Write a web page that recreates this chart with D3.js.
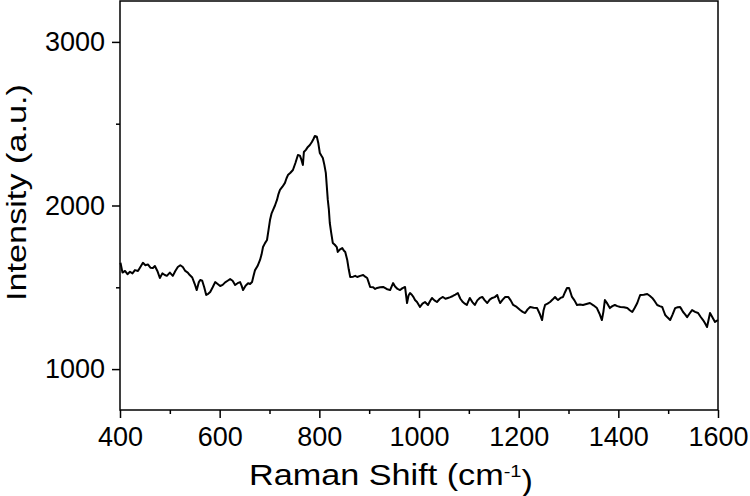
<!DOCTYPE html>
<html>
<head>
<meta charset="utf-8">
<script src="https://cdn.jsdelivr.net/npm/d3@7"></script>
<style>
  body { margin: 0; background: #fff; }
  text { font-family: "Liberation Sans", Arial, sans-serif; fill: #000; }
</style>
</head>
<body>
<svg></svg>
<script>
// raman spectrum, values
var shift = [401,405,410,415,420,425,430,436,440,446,451,456,461,466,470,475,480,485,490,494,500,506,511,516,521,526,531,536,540,545,550,554,558,561,565,569,573,577,581,586,591,596,601,606,611,616,621,626,631,636,641,644,647,652,657,661,665,668,671,676,681,684,687,691,695,698,701,704,707,711,715,718,721,726,731,734,737,742,747,752,757,761,764,767,769,773,777,781,785,788,791,795,798,801,804,807,810,813,817,819,821,824,827,831,835,837,841,846,849,852,856,859,862,868,872,876,882,888,892,896,899,902,908,912,916,922,928,935,942,948,952,957,962,967,972,976,979,982,986,989,992,996,1002,1007,1012,1018,1022,1026,1031,1036,1042,1048,1053,1058,1063,1068,1073,1078,1083,1088,1092,1096,1102,1107,1112,1117,1122,1127,1132,1137,1142,1147,1152,1157,1160,1163,1168,1173,1179,1184,1189,1196,1203,1208,1213,1218,1223,1230,1237,1242,1247,1250,1253,1258,1263,1268,1273,1276,1279,1284,1289,1293,1297,1301,1304,1307,1312,1317,1323,1329,1336,1343,1350,1357,1362,1367,1370,1373,1378,1383,1388,1393,1398,1404,1411,1418,1423,1428,1433,1438,1441,1444,1451,1458,1463,1468,1473,1478,1483,1488,1491,1494,1499,1504,1509,1514,1519,1524,1527,1530,1534,1538,1543,1548,1554,1560,1565,1570,1574,1578,1581,1584,1589,1594,1597,1600];
var intensity = [1650,1590,1600,1580,1595,1585,1605,1600,1620,1650,1635,1640,1620,1618,1630,1600,1557,1585,1575,1570,1590,1570,1600,1624,1635,1624,1600,1590,1575,1560,1520,1483,1530,1545,1540,1500,1453,1460,1471,1500,1532,1520,1508,1515,1530,1540,1550,1540,1514,1525,1532,1510,1483,1510,1525,1520,1532,1570,1605,1630,1667,1700,1746,1770,1789,1850,1911,1950,1972,2000,2034,2070,2095,2115,2138,2165,2186,2200,2217,2260,2309,2305,2280,2248,2327,2340,2358,2370,2388,2405,2425,2420,2380,2321,2305,2290,2250,2199,2034,1980,1893,1830,1771,1760,1746,1716,1730,1740,1725,1716,1667,1610,1563,1565,1570,1563,1570,1575,1565,1557,1530,1502,1500,1490,1496,1500,1502,1490,1483,1526,1505,1490,1483,1495,1502,1404,1450,1465,1453,1440,1422,1410,1380,1400,1410,1392,1415,1435,1420,1410,1430,1441,1430,1435,1440,1447,1455,1465,1430,1410,1400,1392,1435,1410,1392,1420,1435,1441,1420,1404,1425,1435,1440,1453,1425,1404,1425,1441,1441,1420,1392,1380,1361,1350,1343,1365,1380,1375,1373,1340,1300,1360,1392,1400,1410,1425,1441,1430,1422,1435,1441,1470,1496,1496,1470,1441,1420,1392,1395,1392,1398,1404,1390,1373,1340,1300,1350,1422,1400,1373,1385,1392,1385,1380,1378,1373,1360,1349,1375,1404,1430,1453,1455,1459,1448,1435,1415,1392,1385,1380,1355,1331,1315,1300,1335,1373,1378,1380,1365,1349,1335,1318,1340,1361,1350,1343,1320,1300,1280,1257,1300,1343,1315,1288,1295,1300];

var xTicks = [400, 600, 800, 1000, 1200, 1400, 1600];
var xMinor = [500, 700, 900, 1100, 1300, 1500];
var yTicks = [1000, 2000, 3000];
var yMinor = [1500, 2500];

var width = 750;
var height = 496;
var margin = {top: 1, right: 32, bottom: 86, left: 120};

var svg = d3.select('svg')
    .attr('width', width)
    .attr('height', height);

var xScale = d3.scaleLinear()
                .domain([400, 1600])
                .range([margin.left, width - margin.right]);

var yScale = d3.scaleLinear()
                .domain([750, 3250])
                .range([height - margin.bottom, margin.top]);

var xAxis = d3.axisBottom(xScale)
              .tickValues(xTicks)
              .tickFormat(d3.format('d'))
              .tickSize(8)
              .tickPadding(9)
              .tickSizeOuter(0);

var xAxisMinor = d3.axisBottom(xScale)
              .tickValues(xMinor)
              .tickFormat('')
              .tickSize(4)
              .tickSizeOuter(0);

var yAxis = d3.axisLeft(yScale)
              .tickValues(yTicks)
              .tickFormat(d3.format('d'))
              .tickSize(8)
              .tickPadding(7)
              .tickSizeOuter(0);

var yAxisMinor = d3.axisLeft(yScale)
              .tickValues(yMinor)
              .tickFormat('')
              .tickSize(4)
              .tickSizeOuter(0);

svg.append('g')
    .attr('transform', 'translate(0,' + (height - margin.bottom) + ')')
    .call(xAxis);
svg.append('g')
    .attr('transform', 'translate(0,' + (height - margin.bottom) + ')')
    .call(xAxisMinor);

svg.append('g')
    .attr('transform', 'translate(' + margin.left + ',0)')
    .call(yAxis);
svg.append('g')
    .attr('transform', 'translate(' + margin.left + ',0)')
    .call(yAxisMinor);

svg.selectAll('.domain').remove();
svg.selectAll('.tick line').attr('stroke', '#000').attr('stroke-width', 1.5);
svg.selectAll('.tick text')
    .style('font-size', '27px')
    .attr('fill', '#000');

// frame
svg.append('rect')
    .attr('x', margin.left)
    .attr('y', margin.top)
    .attr('width', width - margin.right - margin.left)
    .attr('height', height - margin.bottom - margin.top)
    .attr('fill', 'none')
    .attr('stroke', '#000')
    .attr('stroke-width', 1.5);

var data = shift.map((s, i) => ({x: s, y: intensity[i]}));

var line = d3.line()
    .x(d => xScale(d.x))
    .y(d => yScale(d.y));

svg.append('path')
    .datum(data)
    .attr('d', line)
    .attr('fill', 'none')
    .attr('stroke', '#000')
    .attr('stroke-width', 2)
    .attr('stroke-linejoin', 'round');

// x title, stretched a bit like the original
var xt = svg.append('text')
    .attr('x', 0)
    .attr('y', 0)
    .style('font-size', '29px');
xt.append('tspan').text('Raman Shift (cm');
xt.append('tspan').attr('dy', '-0.5em').style('font-size', '17px').text('-1');
xt.append('tspan').attr('dy', '0.5em').text(')');
var xw = xt.node().getComputedTextLength();
var xs = 284 / xw;
xt.attr('transform', 'translate(' + (391 - 142) + ',485) scale(' + xs + ',1)');

// y title
var yt = svg.append('text')
    .style('font-size', '27px')
    .text('Intensity (a.u.)');
var yw = yt.node().getComputedTextLength();
var ys = 217 / yw;
yt.attr('transform', 'translate(26,' + (193 + 108) + ') rotate(-90) scale(' + ys + ',1)');
</script>
</body>
</html>
